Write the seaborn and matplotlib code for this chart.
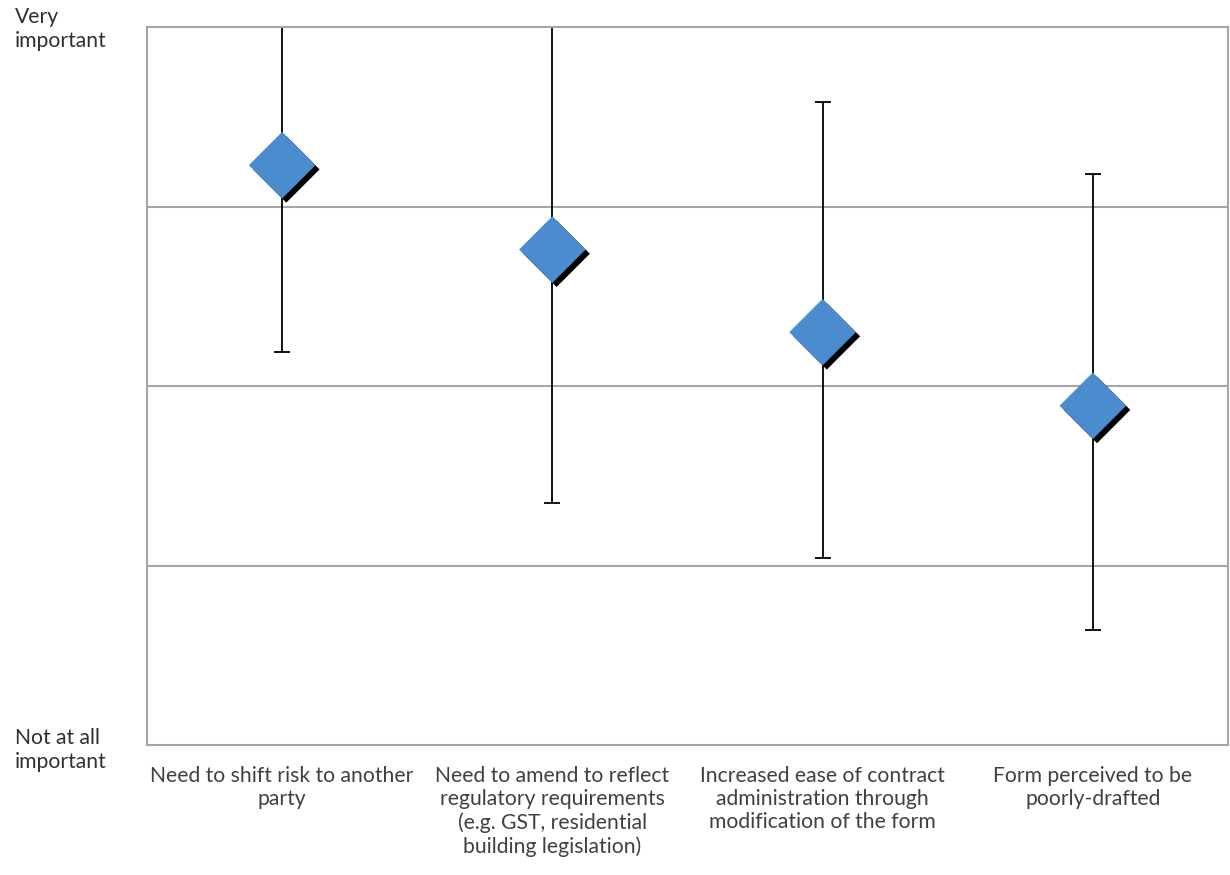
import matplotlib
matplotlib.use("Agg")
import matplotlib.pyplot as plt
import matplotlib.transforms as mtransforms
import seaborn as sns
import pandas as pd
import numpy as np

categories = [
    "Need to shift risk to another\nparty",
    "Need to amend to reflect\nregulatory requirements\n(e.g. GST, residential\nbuilding legislation)",
    "Increased ease of contract\nadministration through\nmodification of the form",
    "Form perceived to be\npoorly-drafted",
]
means = [4.23, 3.76, 3.30, 2.89]
err_low = [1.04, 1.41, 1.26, 1.25]
err_high = [1.04, 1.41, 1.28, 1.29]
y_label_values = [1, 5]
y_labels = ["Not at all\nimportant", "Very\nimportant"]

sns.set_style("white")
plt.rcParams["font.family"] = ["Lato", "DejaVu Sans"]

text_color = "#404040"
grid_color = "#a6a6a6"

fig = plt.figure(figsize=(12.3, 8.75), dpi=100)
ax = fig.add_axes([147 / 1230, 1 - 745 / 875, (1228 - 147) / 1230, (745 - 27) / 875])

df = pd.DataFrame({"x": np.arange(len(categories)), "mean": means})

ax.set_xlim(-0.5, len(categories) - 0.5)
ax.set_ylim(1, 5)

for yv in [2, 3, 4]:
    ax.axhline(yv, color=grid_color, lw=1.5, zorder=1)

ax.errorbar(df["x"], df["mean"], yerr=[err_low, err_high], fmt="none",
            ecolor="black", elinewidth=1.3, capsize=6, capthick=1.3, zorder=2)

shadow = ax.transData + mtransforms.ScaledTranslation(3 / 72, -3 / 72, fig.dpi_scale_trans)
sns.scatterplot(data=df, x="x", y="mean", marker="D", s=1150, color="black",
                edgecolor="none", linewidth=0, ax=ax, zorder=3, transform=shadow, legend=False)
sns.scatterplot(data=df, x="x", y="mean", marker="D", s=1150, color="#4b8ccf",
                edgecolor="none", linewidth=0, ax=ax, zorder=4, legend=False)

for sp in ax.spines.values():
    sp.set_visible(True)
    sp.set_color(grid_color)
    sp.set_linewidth(1.5)

ax.set_xticks(range(len(categories)))
ax.set_xticklabels(categories, fontsize=15.2, color=text_color, linespacing=1.2,
                   va="top", ha="center")
ax.tick_params(axis="x", which="major", length=0, pad=15)
ax.set_xticks(np.arange(-0.5, len(categories), 1.0), minor=True)
ax.tick_params(axis="x", which="minor", length=6, width=1.5, color=grid_color, direction="out")

ax.set_yticks([])
blend = mtransforms.blended_transform_factory(fig.transFigure, ax.transData)
for val, lab in zip(y_label_values, y_labels):
    dy = -5 if val == 1 else -2
    tr = blend + mtransforms.ScaledTranslation(0, dy / 100, fig.dpi_scale_trans)
    ax.text(15 / 1230, val, lab, transform=tr, ha="left", va="center", fontsize=15.2,
            color="#303030", linespacing=1.3)

ax.set_xlabel("")
ax.set_ylabel("")

fig.savefig("out.png", dpi=100)
